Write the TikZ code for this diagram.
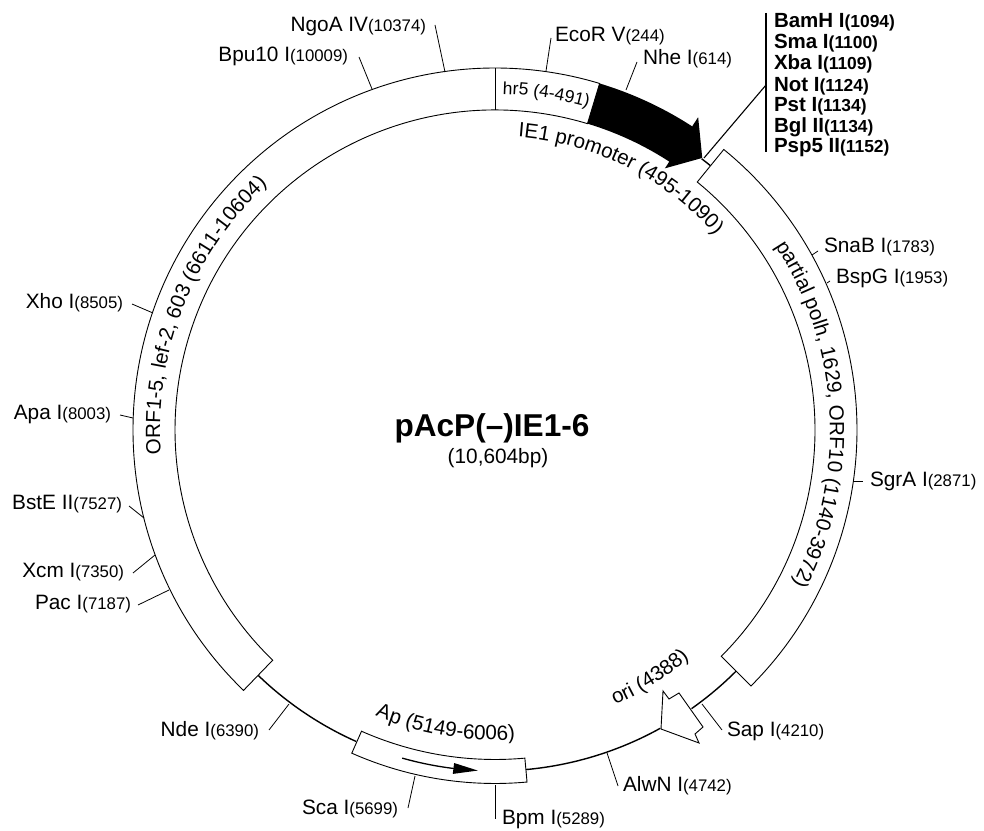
\documentclass[tikz,border=0pt]{standalone}
\usepackage{fontspec}
\setmainfont{Liberation Sans}
\usetikzlibrary{decorations.text}
\newcommand{\fs}[1]{\fontsize{#1}{#1}\selectfont}
\newcommand{\sitelab}[2]{{\fs{20.8}#1}{\fs{16.8}#2}}
\newcommand{\boldlab}[2]{{\fs{20.5}\bfseries #1}{\fs{17.4}\bfseries #2}}
\tikzset{
  x=1pt,y=1pt,
  bandline/.style={draw=black,line width=0.9pt,fill=white,line join=miter},
  backbone/.style={draw=black,line width=1.4pt},
  tickline/.style={draw=black,line width=0.8pt},
  groupline/.style={draw=black,line width=1.1pt},
  sitel/.style={anchor=base west,inner sep=0pt,outer sep=0pt},
  siter/.style={anchor=base east,inner sep=0pt,outer sep=0pt},
  curved/.style={decorate,decoration={text along path,text align={center},text={#1}}},
}
\begin{document}
\begin{tikzpicture}
\useasboundingbox (0,0) rectangle (984,830);
% ---- circular map, centred on the plasmid
\begin{scope}[shift={(495pt,400pt)}]
  \draw[backbone] (-45:341) arc[start angle=-45,end angle=-54.8,radius=341];
  \draw[backbone] (-61:341) arc[start angle=-61,end angle=-84.8,radius=341];
  \draw[backbone] (246:341) arc[start angle=246,end angle=226,radius=341];
  \draw[backbone] (52.7:341) arc[start angle=52.7,end angle=50.8,radius=341];
  % ORF + hr5 band
  \path[bandline] (226:362) arc[start angle=226,end angle=73.2,radius=362]
     -- (73.2:320) arc[start angle=73.2,end angle=226,radius=320] -- cycle;
  \draw[bandline] (90:362) -- (90:320);
  % polh band
  \path[bandline] (50.8:362) arc[start angle=50.8,end angle=-45,radius=362]
     -- (-45:320) arc[start angle=-45,end angle=50.8,radius=320] -- cycle;
  % IE1 promoter arrow
  \fill[black] (73.2:362) arc[start angle=73.2,end angle=57,radius=362]
     -- (57:373) -- (52.7:342) -- (57:312) -- (57:320)
     arc[start angle=57,end angle=73.2,radius=320] -- cycle;
  % Ap box
  \path[bandline] (246.1:329.5) arc[start angle=246.1,end angle=275.2,radius=329.5]
     -- (275.2:353.5) arc[start angle=275.2,end angle=246.1,radius=353.5] -- cycle;
  \draw[black,line width=1.3pt] (254.2:341) arc[start angle=254.2,end angle=263.5,radius=341];
  \fill[black] (263:335.5) -- (267.1:341) -- (263:346.5) -- cycle;
  % curved labels
  \path[curved={|\fs{17.5}|hr5 (4-491)}] (90:336) arc[start angle=90,end angle=72.6,radius=336];
  \path[curved={|\fs{20.6}|IE1 promoter (495-1090)}] (88:294) arc[start angle=88,end angle=39,radius=294];
  \path[curved={|\fs{20.6}|partial polh, 1629, ORF10 (1140-3972)}] (38:335) arc[start angle=38,end angle=-32,radius=335];
  \path[curved={|\fs{20.6}|ORF1-5, lef-2, 603 (6611-10604)}] (188:335) arc[start angle=188,end angle=129,radius=335];
  \path[curved={|\fs{20.6}|Ap (5149-6006)}] (244:310) arc[start angle=244,end angle=277,radius=310];
  \path[curved={|\fs{20.6}|ori (4388)}] (-69.5:300) arc[start angle=-69.5,end angle=-46.5,radius=300];
\end{scope}
% ---- items placed in reference pixel coordinates (y down)
\begin{scope}[x=1pt,y=-1pt,shift={(0pt,830pt)}]
  \draw[bandline] (661,729) -- (663,691) -- (669,699) -- (679,693) -- (703,727)
     -- (695,734) -- (699,743) -- cycle;
  % site labels
  \node[sitel] (eco) at (555,42) {\sitelab{EcoR V}{(244)}};
  \node[sitel] (nhe) at (643,65) {\sitelab{Nhe I}{(614)}};
  \node[sitel] (sna) at (824,253) {\sitelab{SnaB I}{(1783)}};
  \node[sitel] (bsp) at (836,284) {\sitelab{BspG I}{(1953)}};
  \node[sitel] (sgr) at (870,487) {\sitelab{SgrA I}{(2871)}};
  \node[sitel] (sap) at (727,736) {\sitelab{Sap I}{(4210)}};
  \node[sitel] (alw) at (623,791) {\sitelab{AlwN I}{(4742)}};
  \node[sitel] (bpm) at (502,824) {\sitelab{Bpm I}{(5289)}};
  \node[siter] (sca) at (398,814) {\sitelab{Sca I}{(5699)}};
  \node[siter] (nde) at (259,736) {\sitelab{Nde I}{(6390)}};
  \node[siter] (pac) at (131,609) {\sitelab{Pac I}{(7187)}};
  \node[siter] (xcm) at (124,578) {\sitelab{Xcm I}{(7350)}};
  \node[siter] (bst) at (122,510) {\sitelab{BstE II}{(7527)}};
  \node[siter] (apa) at (111,420) {\sitelab{Apa I}{(8003)}};
  \node[siter] (xho) at (123,309) {\sitelab{Xho I}{(8505)}};
  \node[siter] (bpu) at (348,62) {\sitelab{Bpu10 I}{(10009)}};
  \node[siter] (ngo) at (426,32) {\sitelab{NgoA IV}{(10374)}};
  \node[sitel] (bam) at (774,28) {\boldlab{BamH I}{(1094)}};
  \node[sitel] (sma) at (774,49) {\boldlab{Sma I}{(1100)}};
  \node[sitel] (xba) at (774,70) {\boldlab{Xba I}{(1109)}};
  \node[sitel] (not) at (774,92) {\boldlab{Not I}{(1124)}};
  \node[sitel] (pst) at (774,112) {\boldlab{Pst I}{(1134)}};
  \node[sitel] (bgl) at (774,133) {\boldlab{Bgl II}{(1134)}};
  \node[sitel] (psp) at (774,153) {\boldlab{Psp5 II}{(1152)}};
  % tick ends
  \foreach \nm/\ax/\ay/\bx/\by in {
    eco/546/71/551/38, nhe/626/90/637/62, sna/812/255/818/251, bsp/827/283/830/281,
    sgr/853/481/863/481, sap/702/704/722/730, alw/607/753/618/786, bpm/495/785/495/819,
    sca/415/776/408/808, nde/289/704/269/730, pac/169/590/138/605, xcm/155/555/133/573,
    bst/144/518/129/506, apa/133/418/120/415, xho/153/313/132/304, bpu/372/89/359/57,
    ngo/445/72/435/25}{
    \coordinate (\nm A) at (\ax,\ay);
    \coordinate (\nm B) at (\bx,\by);
    \draw[tickline] (\nm A) -- (\nm B);
  }
  % multiple cloning site bracket
  \coordinate (mcsS) at (704,158);
  \coordinate (mcsJ) at (766,85);
  \coordinate (mcsT) at (766,13);
  \coordinate (mcsE) at (766,152);
  \draw[groupline] (mcsS) -- (mcsJ);
  \draw[groupline] (mcsT) -- (mcsE);
  % title
  \node[anchor=base,inner sep=0pt] (title) at (492,437) {\fs{31.6}\bfseries pAcP(–)IE1-6};
  \node[anchor=base,inner sep=0pt] (size) at (498,464) {\fs{20.8}(10,604bp)};
\end{scope}
\end{tikzpicture}
\end{document}
